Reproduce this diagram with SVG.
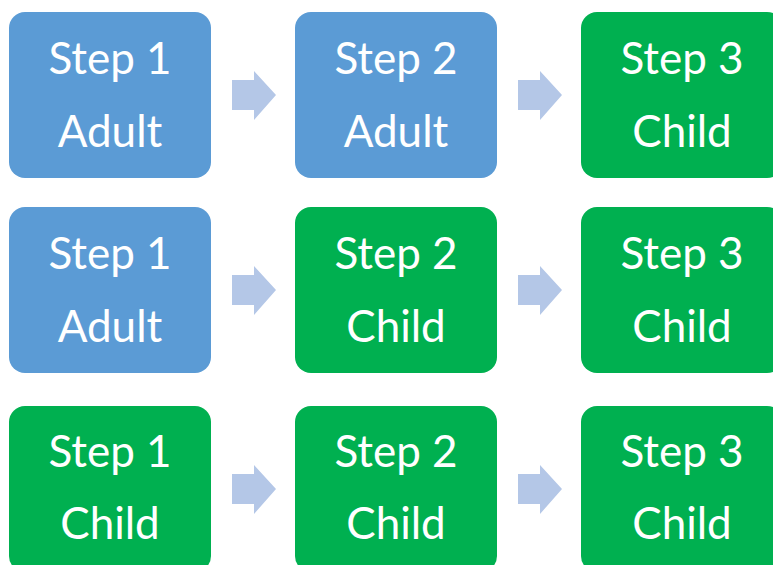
<svg xmlns="http://www.w3.org/2000/svg" width="773" height="565" viewBox="0 0 773 565">
<style>
.box{stroke:none}
.blue{fill:#5B9BD5}
.green{fill:#00B050}
.arrow{fill:#B4C7E7}
text{font-family:Lato,"Open Sans","Liberation Sans",sans-serif;font-size:44px;fill:#FFFFFF;text-anchor:middle}
</style>
<defs>
<polygon id="arr" points="0,-15 22,-15 22,-24 44,0 22,25 22,15 0,15"/>
</defs>
<g id="r1c1"><rect class="box blue" x="9" y="12" width="202" height="166" rx="16"/><text x="110" y="74">Step 1</text><text x="110" y="147">Adult</text></g>
<g id="r1c2"><rect class="box blue" x="295" y="12" width="202" height="166" rx="16"/><text x="396" y="74">Step 2</text><text x="396" y="147">Adult</text></g>
<g id="r1c3"><rect class="box green" x="581" y="12" width="202" height="166" rx="16"/><text x="682" y="74">Step 3</text><text x="682" y="147">Child</text></g>
<g id="r2c1"><rect class="box blue" x="9" y="207" width="202" height="166" rx="16"/><text x="110" y="269">Step 1</text><text x="110" y="342">Adult</text></g>
<g id="r2c2"><rect class="box green" x="295" y="207" width="202" height="166" rx="16"/><text x="396" y="269">Step 2</text><text x="396" y="342">Child</text></g>
<g id="r2c3"><rect class="box green" x="581" y="207" width="202" height="166" rx="16"/><text x="682" y="269">Step 3</text><text x="682" y="342">Child</text></g>
<g id="r3c1"><rect class="box green" x="9" y="406" width="202" height="166" rx="16"/><text x="110" y="467">Step 1</text><text x="110" y="539">Child</text></g>
<g id="r3c2"><rect class="box green" x="295" y="406" width="202" height="166" rx="16"/><text x="396" y="467">Step 2</text><text x="396" y="539">Child</text></g>
<g id="r3c3"><rect class="box green" x="581" y="406" width="202" height="166" rx="16"/><text x="682" y="467">Step 3</text><text x="682" y="539">Child</text></g>
<g id="connectors" class="arrow">
<use href="#arr" x="232" y="95"/>
<use href="#arr" x="518" y="95"/>
<use href="#arr" x="232" y="290"/>
<use href="#arr" x="518" y="290"/>
<use href="#arr" x="232" y="489"/>
<use href="#arr" x="518" y="489"/>
</g>
</svg>
